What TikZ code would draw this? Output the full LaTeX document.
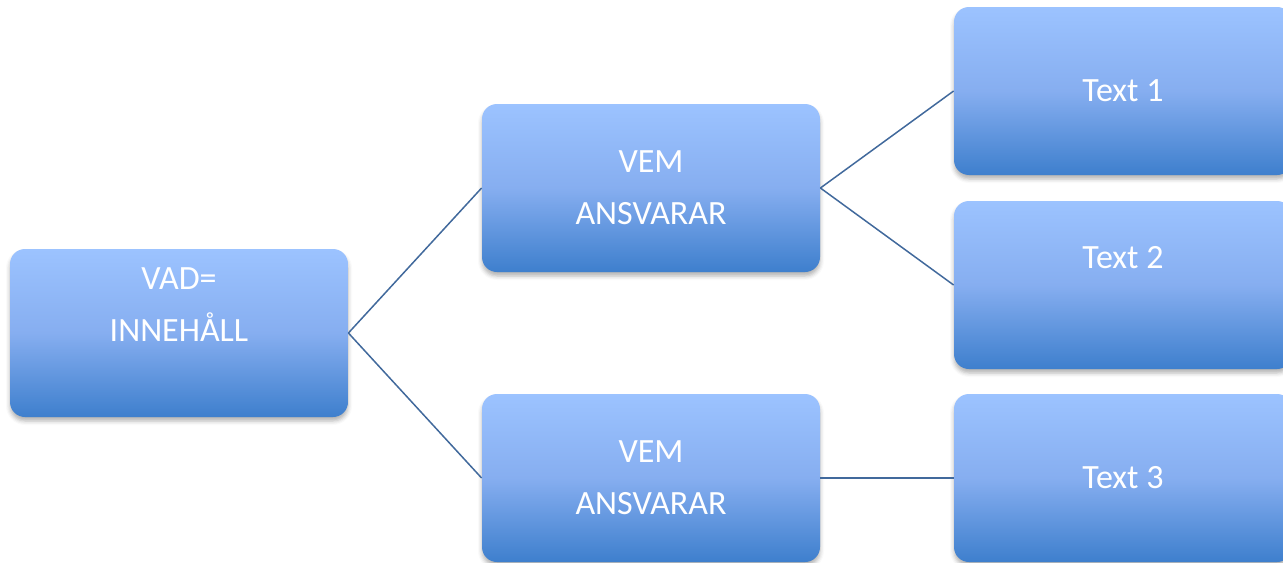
\documentclass[tikz,border=0pt]{standalone}
\usepackage{fontspec}
\setmainfont{Carlito}
\usetikzlibrary{shadows.blur}
\definecolor{boxtop}{HTML}{9CC3FF}
\definecolor{boxmid}{HTML}{86AEF0}
\definecolor{boxbot}{HTML}{3E7FCD}
\definecolor{conn}{HTML}{41699C}
\begin{document}
\begin{tikzpicture}[x=0.5pt,y=-0.5pt,
  box/.style={rectangle, rounded corners=7.5pt, minimum width=169pt, minimum height=84pt,
    top color=boxtop, bottom color=boxbot, middle color=boxmid, draw=none, inner sep=0pt,
    blur shadow={shadow xshift=0pt, shadow yshift=-2pt, shadow blur radius=2pt, shadow opacity=30}},
  txt/.style={text=white, font=\fontsize{17}{26}\selectfont, align=center, inner sep=0pt},
  link/.style={draw=conn, line width=0.75pt}]
\useasboundingbox (0,0) rectangle (1283,562);
\node[box] (vad) at (179,333) {};
\node[box] (vem1) at (651,188) {};
\node[box] (vem2) at (651,478) {};
\node[box] (t1) at (1123,91) {};
\node[box] (t2) at (1123,285) {};
\node[box] (t3) at (1123,478) {};
\node[txt] (vadtxt) at (179,305) {VAD=\\INNEHÅLL};
\node[txt] (vem1txt) at (651,188) {VEM\\ANSVARAR};
\node[txt] (vem2txt) at (651,478) {VEM\\ANSVARAR};
\node[txt] (t1txt) at (1123,91) {Text 1};
\node[txt] (t2txt) at (1123,258) {Text 2};
\node[txt] (t3txt) at (1123,478) {Text 3};
\draw[link] (vad.east) -- (vem1.west);
\draw[link] (vad.east) -- (vem2.west);
\draw[link] (vem1.east) -- (t1.west);
\draw[link] (vem1.east) -- (t2.west);
\draw[link] (vem2.east) -- (t3.west);
\end{tikzpicture}
\end{document}
